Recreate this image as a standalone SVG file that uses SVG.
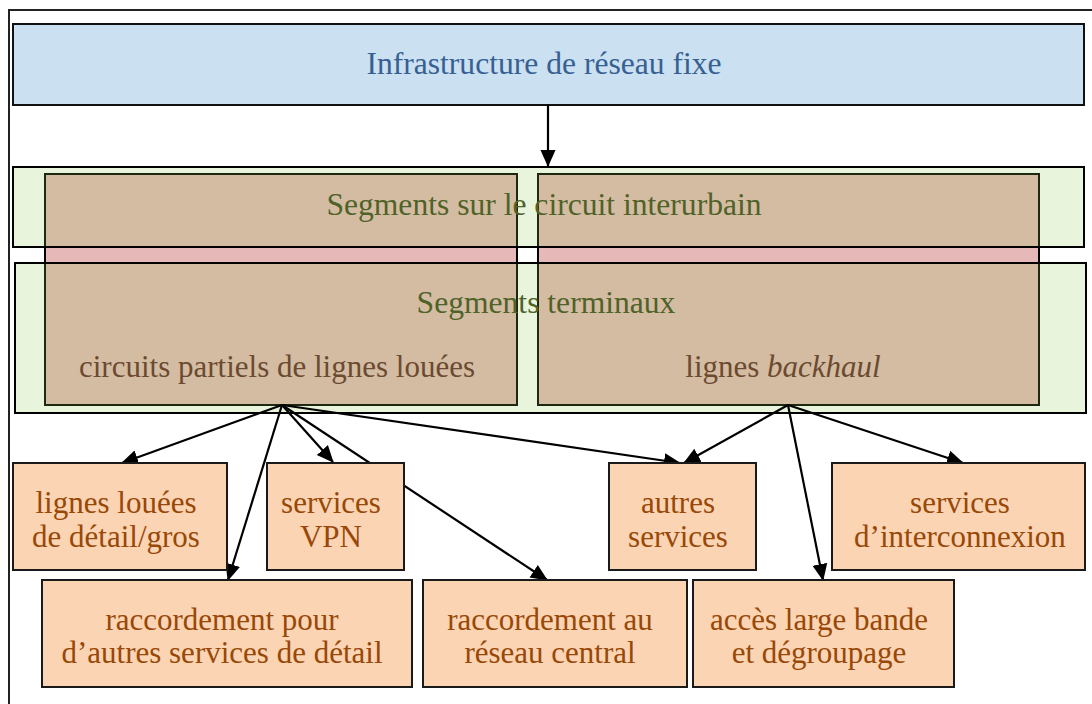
<svg xmlns="http://www.w3.org/2000/svg" width="1092" height="704" viewBox="0 0 1092 704">
<style>
text{font-family:"Liberation Serif","Times New Roman",serif;font-size:31px;text-anchor:middle}
.big{font-size:31.6px}
.blue{fill:#cbe0f1;stroke:#111;stroke-width:2}
.seg{fill:#e6b9b8;stroke:#000;stroke-width:2}
.grn{fill:#8cc850;fill-opacity:0.2;stroke:#000;stroke-width:2}
.box{fill:#fbd4b4;stroke:#1a1a1a;stroke-width:2}
.tb{fill:#376092}
.tg{fill:#4f6228}
.tr{fill:#6b4a30}
.to{fill:#984807}
.con line{stroke:#000;stroke-width:2.2;marker-end:url(#ah)}
</style>
<defs>
<marker id="ah" markerUnits="userSpaceOnUse" markerWidth="17" markerHeight="17" viewBox="0 0 17 17" refX="16" refY="8.5" orient="auto">
<path d="M0,1 L17,8.5 L0,16 Z" fill="#000"/>
</marker>
</defs>
<rect width="1092" height="704" fill="#fff"/>
<path d="M9,704 V10 H1092" fill="none" stroke="#222" stroke-width="2"/>
<g id="infra">
<rect class="blue" x="13" y="24" width="1071" height="81"/>
<text class="tb big" x="544" y="74">Infrastructure de réseau fixe</text>
</g>
<g id="segLeft">
<rect class="seg" x="45" y="174" width="472" height="231"/>
</g>
<g id="segRight">
<rect class="seg" x="538" y="174" width="501" height="231"/>
</g>
<g id="interurbain">
<rect class="grn" x="13" y="167" width="1071" height="80"/>
<text class="tg big" x="544" y="215">Segments sur le circuit interurbain</text>
</g>
<g id="terminaux">
<rect class="grn" x="15" y="263" width="1071" height="150"/>
<text class="tg big" x="546" y="313">Segments terminaux</text>
</g>
<g id="segLeftLabel">
<text class="tr" x="277" y="377">circuits partiels de lignes louées</text>
</g>
<g id="segRightLabel">
<text class="tr" x="783" y="377">lignes <tspan font-style="italic">backhaul</tspan></text>
</g>
<g id="connectors" class="con">
<line x1="548" y1="105" x2="548" y2="166"/>
<line x1="282" y1="405" x2="122" y2="463"/>
<line x1="282" y1="405" x2="228" y2="580"/>
<line x1="282" y1="405" x2="333" y2="462"/>
<line x1="282" y1="405" x2="547" y2="580"/>
<line x1="282" y1="405" x2="680" y2="463"/>
<line x1="788" y1="405" x2="684" y2="463"/>
<line x1="788" y1="405" x2="823" y2="580"/>
<line x1="788" y1="405" x2="963" y2="463"/>
</g>
<g id="lignesLouees">
<rect class="box" x="13" y="463" width="214" height="107"/>
<text class="to" x="116" y="513">lignes louées</text>
<text class="to" x="116" y="547">de détail/gros</text>
</g>
<g id="vpn">
<rect class="box" x="267" y="463" width="137" height="107"/>
<text class="to" x="331" y="513">services</text>
<text class="to" x="331" y="547">VPN</text>
</g>
<g id="autres">
<rect class="box" x="609" y="463" width="147" height="107"/>
<text class="to" x="678" y="513">autres</text>
<text class="to" x="678" y="547">services</text>
</g>
<g id="interconnexion">
<rect class="box" x="832" y="463" width="253" height="107"/>
<text class="to" x="960" y="513">services</text>
<text class="to" x="960" y="547">d’interconnexion</text>
</g>
<g id="raccAutres">
<rect class="box" x="42" y="580" width="370" height="107"/>
<text class="to" x="222" y="630">raccordement pour</text>
<text class="to" x="222" y="663">d’autres services de détail</text>
</g>
<g id="raccCentral">
<rect class="box" x="423" y="580" width="264" height="107"/>
<text class="to" x="550" y="630">raccordement au</text>
<text class="to" x="550" y="663">réseau central</text>
</g>
<g id="largeBande">
<rect class="box" x="693" y="580" width="261" height="107"/>
<text class="to" x="819" y="630">accès large bande</text>
<text class="to" x="819" y="663">et dégroupage</text>
</g>
</svg>
